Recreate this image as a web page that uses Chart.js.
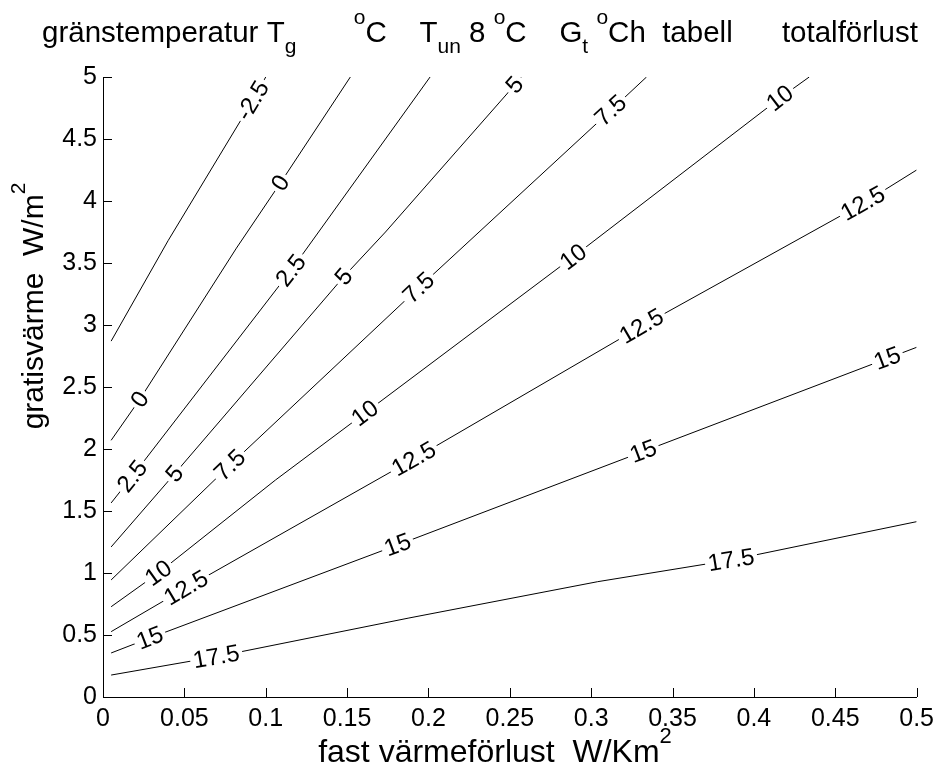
<!DOCTYPE html>
<html lang="sv">
<head>
<meta charset="UTF-8">
<title>gränstemperatur</title>
<script src="https://cdn.jsdelivr.net/npm/chart.js@4.4.1/dist/chart.umd.min.js"></script>
<style>
  html, body { margin: 0; padding: 0; background: #fff; }
  #wrap { width: 941px; height: 774px; }
</style>
</head>
<body>
<div id="wrap"><canvas id="chart" width="941" height="774"></canvas></div>
<script>
// contour levels
const levels = [-2.5, 0, 2.5, 5, 7.5, 10, 12.5, 15, 17.5];

// contour lines (x = fast värmeförlust, y = gratisvärme)
const xM25 = [0.005, 0.04, 0.092, 0.100];
const yM25 = [2.87, 3.68, 4.81, 5.0];
const x0 = [0.005, 0.0226, 0.082, 0.109, 0.152];
const y0 = [2.07, 2.40, 3.62, 4.145, 5.0];
const x25 = [0.005, 0.018, 0.1155, 0.201];
const y25 = [1.565, 1.78, 3.44, 5.0];
const x5 = [0.005, 0.044, 0.148, 0.1736, 0.253, 0.257];
const y5 = [1.21, 1.80, 3.39, 3.75, 4.935, 5.0];
const x75 = [0.005, 0.078, 0.194, 0.312, 0.334];
const y75 = [0.944, 1.87, 3.30, 4.73, 5.0];
const x10 = [0.005, 0.034, 0.106, 0.161, 0.289, 0.416, 0.434];
const y10 = [0.728, 1.0, 1.75, 2.29, 3.55, 4.83, 5.0];
const x125 = [0.005, 0.051, 0.191, 0.331, 0.467, 0.5];
const y125 = [0.527, 0.88, 1.92, 2.99, 3.98, 4.25];
const x15 = [0.005, 0.0288, 0.181, 0.332, 0.482, 0.5];
const y15 = [0.355, 0.476, 1.226, 1.98, 2.73, 2.82];
const x175 = [0.005, 0.0696, 0.188, 0.304, 0.386, 0.5];
const y175 = [0.177, 0.325, 0.637, 0.93, 1.105, 1.414];

const lineX = [xM25, x0, x25, x5, x75, x10, x125, x15, x175];
const lineY = [yM25, y0, y25, y5, y75, y10, y125, y15, y175];

// inline contour labels (clabel)
const labelLevel = [-2.5, 0, 0, 2.5, 2.5, 5, 5, 5, 7.5, 7.5, 7.5, 10, 10, 10, 10, 12.5, 12.5, 12.5, 12.5, 15, 15, 15, 15, 17.5, 17.5];
const labelX = [0.092, 0.0226, 0.109, 0.018, 0.1155, 0.044, 0.148, 0.253, 0.078, 0.194, 0.312, 0.034, 0.161, 0.289, 0.416, 0.051, 0.191, 0.331, 0.467, 0.0288, 0.181, 0.332, 0.482, 0.0696, 0.386];
const labelY = [4.81, 2.40, 4.145, 1.78, 3.44, 1.80, 3.39, 4.935, 1.87, 3.30, 4.73, 1.0, 2.29, 3.55, 4.83, 0.88, 1.92, 2.99, 3.98, 0.476, 1.226, 1.98, 2.73, 0.325, 1.105];

// axis ticks
const xTicks = [0, 0.05, 0.1, 0.15, 0.2, 0.25, 0.3, 0.35, 0.4, 0.45, 0.5];
const xTickLabels = ['0', '0.05', '0.1', '0.15', '0.2', '0.25', '0.3', '0.35', '0.4', '0.45', '0.5'];
const yTicks = [0, 0.5, 1, 1.5, 2, 2.5, 3, 3.5, 4, 4.5, 5];
const yTickLabels = ['0', '0.5', '1', '1.5', '2', '2.5', '3', '3.5', '4', '4.5', '5'];

const FONT = '"Liberation Sans", Arial, sans-serif';

// text with sub/superscripts: parts = [[kind, text], ...]
function richWidth(ctx, parts, size) {
    let w = 0;
    parts.forEach(p => {
        ctx.font = (p[0] === 'n' ? size : Math.round(size * 0.7)) + 'px ' + FONT;
        w += ctx.measureText(p[1]).width;
    });
    return w;
}
function drawRich(ctx, parts, x, y, size) {
    parts.forEach(p => {
        ctx.font = (p[0] === 'n' ? size : Math.round(size * 0.7)) + 'px ' + FONT;
        const dy = p[0] === 'sub' ? size * 0.37 : (p[0] === 'sup' ? -size * 0.6 : 0);
        ctx.fillText(p[1], x, y + dy);
        x += ctx.measureText(p[1]).width;
    });
}

const titleParts = [
    ['n', 'gränstemperatur T'], ['sub', 'g'], ['n', '       '], ['sup', 'o'],
    ['n', 'C    T'], ['sub', 'un'], ['n', ' 8 '], ['sup', 'o'],
    ['n', 'C    G'], ['sub', 't'], ['n', ' '], ['sup', 'o'],
    ['n', 'Ch  tabell      totalförlust']
];
const yTitleParts = [['n', 'gratisvärme  W/m'], ['sup', '2']];
const xTitleParts = [['n', 'fast värmeförlust  W/Km'], ['sup', '2']];

const textPlugin = {
    id: 'texts',
    afterDraw(chart) {
        const ctx = chart.ctx;
        const area = chart.chartArea;
        const { x, y } = chart.scales;
        ctx.save();
        ctx.fillStyle = '#000';
        ctx.textBaseline = 'alphabetic';
        ctx.textAlign = 'left';
        drawRich(ctx, titleParts, 42, 42, 29.5);

        let w = richWidth(ctx, xTitleParts, 32);
        drawRich(ctx, xTitleParts, 495 - w / 2, 762, 32);

        w = richWidth(ctx, yTitleParts, 30);
        ctx.translate(43, 306);
        ctx.rotate(-Math.PI / 2);
        drawRich(ctx, yTitleParts, -w / 2, 0, 30);
        ctx.restore();

        // tick marks pointing into the axes
        ctx.save();
        ctx.strokeStyle = '#000';
        ctx.lineWidth = 1;
        ctx.beginPath();
        xTicks.forEach(v => {
            const px = Math.round(x.getPixelForValue(v)) + 0.5;
            ctx.moveTo(px, area.bottom);
            ctx.lineTo(px, area.bottom - 9);
        });
        yTicks.forEach(v => {
            const py = Math.round(y.getPixelForValue(v)) + 0.5;
            ctx.moveTo(area.left, py);
            ctx.lineTo(area.left + 9, py);
        });
        ctx.stroke();
        ctx.restore();
    }
};

const labelPlugin = {
    id: 'clabels',
    afterDatasetsDraw(chart) {
        const ctx = chart.ctx;
        const { x, y } = chart.scales;
        ctx.save();
        ctx.font = '24px ' + FONT;
        labelLevel.forEach((lv, i) => {
            const k = levels.indexOf(lv);
            const xs = lineX[k], ys = lineY[k];
            let j = 0;
            while (j < xs.length - 2 && xs[j + 1] < labelX[i]) j++;
            const ang = Math.atan2(
                y.getPixelForValue(ys[j + 1]) - y.getPixelForValue(ys[j]),
                x.getPixelForValue(xs[j + 1]) - x.getPixelForValue(xs[j]));
            const px = x.getPixelForValue(labelX[i]);
            const py = y.getPixelForValue(labelY[i]);
            const txt = String(lv);
            const w = ctx.measureText(txt).width;
            ctx.save();
            ctx.translate(px, py);
            ctx.rotate(ang);
            ctx.fillStyle = '#fff';
            ctx.fillRect(-w / 2 - 3, -9, w + 6, 18);
            ctx.fillStyle = '#000';
            ctx.textAlign = 'center';
            ctx.textBaseline = 'middle';
            ctx.fillText(txt, 0, 1);
            ctx.restore();
        });
        ctx.restore();
    }
};

new Chart(document.getElementById('chart'), {
    type: 'scatter',
    data: {
        datasets: levels.map((lv, k) => ({
            label: String(lv),
            data: lineX[k].map((v, i) => ({ x: v, y: lineY[k][i] })),
            showLine: true,
            borderColor: '#000',
            borderWidth: 1,
            pointRadius: 0,
            fill: false,
            tension: 0
        }))
    },
    options: {
        responsive: false,
        animation: false,
        devicePixelRatio: 1,
        layout: { padding: { top: 77, right: 21, bottom: 0, left: 0 } },
        plugins: { legend: { display: false }, tooltip: { enabled: false }, title: { display: false } },
        scales: {
            x: {
                type: 'linear', min: 0, max: 0.5,
                afterFit: s => { s.height = 77; },
                afterBuildTicks: s => { s.ticks = xTicks.map(v => ({ value: v })); },
                grid: { display: true, drawOnChartArea: false, drawTicks: false },
                border: { display: true, color: '#000', width: 1 },
                ticks: {
                    padding: 7, color: '#000', maxRotation: 0, autoSkip: false,
                    font: { family: 'Liberation Sans', size: 25 },
                    callback: (v, i) => xTickLabels[i]
                }
            },
            y: {
                type: 'linear', min: 0, max: 5,
                afterFit: s => { s.width = 103; },
                afterBuildTicks: s => { s.ticks = yTicks.map(v => ({ value: v })); },
                grid: { display: true, drawOnChartArea: false, drawTicks: false },
                border: { display: true, color: '#000', width: 1 },
                ticks: {
                    padding: 6, color: '#000', autoSkip: false,
                    font: { family: 'Liberation Sans', size: 25 },
                    callback: (v, i) => yTickLabels[i]
                }
            }
        }
    },
    plugins: [labelPlugin, textPlugin]
});
</script>
</body>
</html>
